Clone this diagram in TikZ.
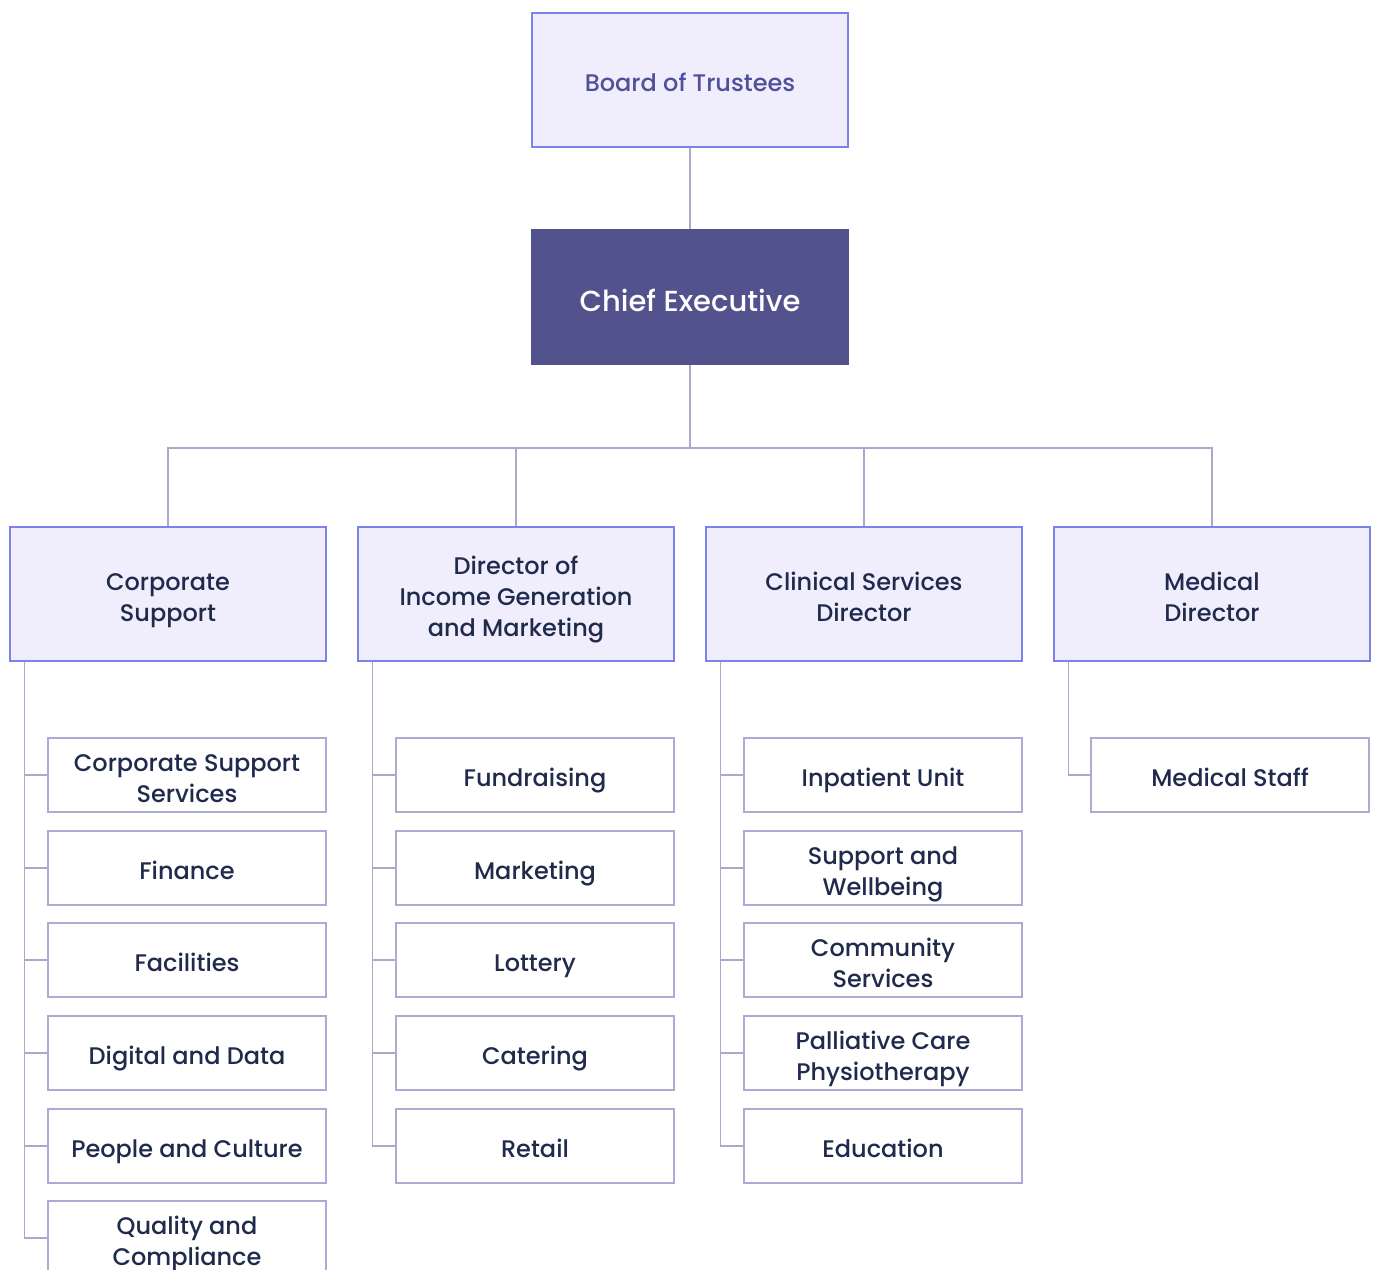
\documentclass[tikz,border=0pt]{standalone}
\usepackage{fontspec}
\setmainfont{Poppins}[UprightFont=* Medium]
\usepackage{tikz}
\usetikzlibrary{positioning,calc}
\definecolor{hdfill}{HTML}{F0EEFC}
\definecolor{hdline}{HTML}{7B83EB}
\definecolor{ceofill}{HTML}{52528C}
\definecolor{leafline}{HTML}{ABABD3}
\definecolor{linkcol}{HTML}{A9A9CC}
\definecolor{navy}{HTML}{1F2A4C}
\definecolor{boardtxt}{HTML}{50509A}
\newcommand{\boxstrut}{\rule[-8pt]{0pt}{39pt}}
\newcommand{\boxfont}{\fontsize{24}{31}\selectfont\lineskiplimit=-100pt\relax}

\begin{document}
\begin{tikzpicture}[x=1pt, y=-1pt,
    every node/.style={font=\boxfont, align=center, inner sep=0pt},
    head/.style={draw=hdline, fill=hdfill, line width=1.5pt, text=navy,
      minimum width=316pt, minimum height=134pt,
      execute at begin node=\boxstrut, execute at end node=\boxstrut},
    leaf/.style={draw=leafline, fill=white, line width=1.3pt, text=navy,
      minimum width=278pt, minimum height=74pt,
      execute at begin node=\boxstrut, execute at end node=\boxstrut},
    link/.style={draw=linkcol, line width=1.3pt}]
  \useasboundingbox (0,0) rectangle (1376,1269);
  \clip (0,0) rectangle (1376,1269);
  % Top of the tree
  \node[head, text=boardtxt] (board) at (690,80) {Board of Trustees};
  \node[fill=ceofill, text=white, minimum width=318pt, minimum height=136pt,
    text height=30pt, text depth=2pt,
    font=\fontsize{29}{34}\selectfont] (chief) at (690,297) {Chief Executive};
  % Directors
  \node[head] (corp) at (168,594) {\boxstrut Corporate\\Support};
  \node[head] (income) at (516,594) {\boxstrut Director of\\Income Generation\\and Marketing};
  \node[head] (clinical) at (864,594) {\boxstrut Clinical Services\\Director};
  \node[head] (medical) at (1212,594) {\boxstrut Medical\\Director};
  % Corporate Support teams
  \node[leaf] (corpsvc) at (187,775) {\boxstrut Corporate Support\\Services};
  \node[leaf] (finance) at (187,868) {Finance};
  \node[leaf] (facil) at (187,960) {Facilities};
  \node[leaf] (digital) at (187,1053) {Digital and Data};
  \node[leaf] (people) at (187,1146) {People and Culture};
  \node[leaf] (quality) at (187,1238) {\boxstrut Quality and\\Compliance};
  % Income Generation teams
  \node[leaf] (fundr) at (535,775) {Fundraising};
  \node[leaf] (mktg) at (535,868) {Marketing};
  \node[leaf] (lottery) at (535,960) {Lottery};
  \node[leaf] (cater) at (535,1053) {Catering};
  \node[leaf] (retail) at (535,1146) {Retail};
  % Clinical teams
  \node[leaf] (inpat) at (883,775) {Inpatient Unit};
  \node[leaf] (support) at (883,868) {\boxstrut Support and\\Wellbeing};
  \node[leaf] (commun) at (883,960) {\boxstrut Community\\Services};
  \node[leaf] (physio) at (883,1053) {\boxstrut Palliative Care\\Physiotherapy};
  \node[leaf] (educ) at (883,1146) {Education};
  % Medical team
  \node[leaf] (medstaff) at (1230,775) {Medical Staff};
  % Connectors
  \coordinate (bus) at (690,448);
  \draw[link] (board) -- (chief);
  \draw[link] (chief) -- (bus);
  \draw[link] (corp.north) |- (bus) -| (medical.north);
  \draw[link] (income.north) -- (income.north |- bus);
  \draw[link] (clinical.north) -- (clinical.north |- bus);
  \coordinate (corpspine) at ($(corp.south west)+(15,0)$);
  \coordinate (incspine) at ($(income.south west)+(15,0)$);
  \coordinate (clinspine) at ($(clinical.south west)+(15,0)$);
  \coordinate (medspine) at ($(medical.south west)+(15,0)$);
  \draw[link] (corpspine) |- (corpsvc.west);
  \draw[link] (corpspine) |- (finance.west);
  \draw[link] (corpspine) |- (facil.west);
  \draw[link] (corpspine) |- (digital.west);
  \draw[link] (corpspine) |- (people.west);
  \draw[link] (corpspine) |- (quality.west);
  \draw[link] (incspine) |- (fundr.west);
  \draw[link] (incspine) |- (mktg.west);
  \draw[link] (incspine) |- (lottery.west);
  \draw[link] (incspine) |- (cater.west);
  \draw[link] (incspine) |- (retail.west);
  \draw[link] (clinspine) |- (inpat.west);
  \draw[link] (clinspine) |- (support.west);
  \draw[link] (clinspine) |- (commun.west);
  \draw[link] (clinspine) |- (physio.west);
  \draw[link] (clinspine) |- (educ.west);
  \draw[link] (medspine) |- (medstaff.west);
\end{tikzpicture}
\end{document}
